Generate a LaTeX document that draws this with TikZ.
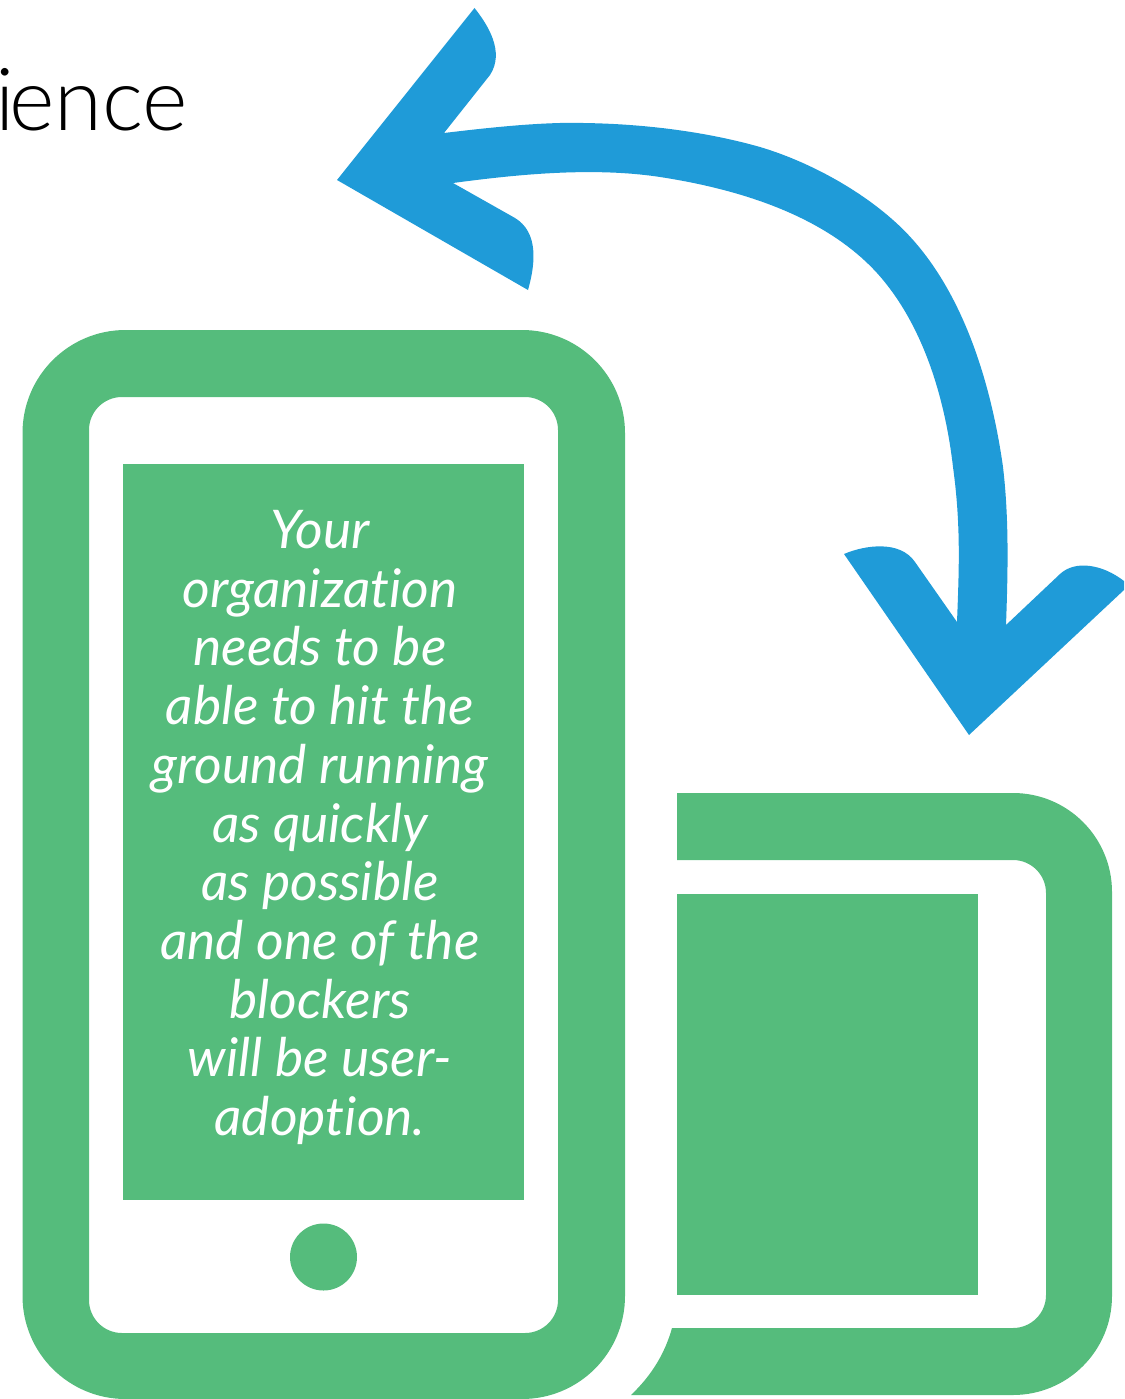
\documentclass[tikz,border=0pt]{standalone}
\usepackage{fontspec}
\setmainfont[Ligatures=NoCommon]{Lato}
\newfontfamily\lightfont{Lato Light}
\definecolor{grn}{HTML}{55BC7C}
\definecolor{blu}{HTML}{1F9BD8}
\tikzset{
  shapefill/.style={fill=grn,draw=none},
  arrowfill/.style={fill=blu,draw=none},
  bodytext/.style={text=white,font=\fontsize{53.3}{58.7}\selectfont\itshape,align=center,inner sep=0pt},
  titletext/.style={text=black,font=\fontsize{87}{100}\lightfont,inner sep=0pt,anchor=base east}
}
\begin{document}
\begin{tikzpicture}[x=1pt,y=-1pt]
\path[use as bounding box] (0,0) rectangle (1124,1399);
\node[titletext] (title) at (188,131) {i\kern-6pt ence};
% phone
\path[shapefill,even odd rule]
  [rounded corners=103pt] (22.5,330) rectangle (625,1399)
  [rounded corners=33pt] (89,397) rectangle (558,1333);
\node[shapefill,minimum width=401.5pt,minimum height=736pt,inner sep=0pt] (screen) at (323.25,832) {};
\node[shapefill,circle,minimum size=67pt,inner sep=0pt] (button) at (323.5,1257) {};
\node[bodytext] (body) at (320,827.5) {Your\\organization\\needs to be\\able to hit the\\ground running\\as quickly\\as possible\\and one of the\\blockers\\will be user-\\adoption.};
% tablet
\path[shapefill]
  (677,793) [rounded corners=99pt] -- (1112,793) -- (1112,1395) [sharp corners] -- (631,1395)
  .. controls (652,1375) and (665,1353) .. (672,1328)
  [rounded corners=33pt] -- (1046,1328) -- (1046,860) [sharp corners] -- (677,860) -- cycle;
\node[shapefill,minimum width=301pt,minimum height=401pt,inner sep=0pt] (tabscreen) at (827.5,1094) {};
% arrow
\path[arrowfill]
  (474.5,8) .. controls (488,25) and (505,52) .. (490,75)
  -- (444,133)
  .. controls (482,128.5) and (522,124) .. (560,123)
  .. controls (630,122) and (700,130) .. (760,147)
  .. controls (807,161) and (857,188) .. (893,220)
  .. controls (958,277) and (990,375) .. (1003,467)
  .. controls (1009,518) and (1008,570) .. (1006,625)
  -- (1060,574)
  .. controls (1075,560) and (1102,564) .. (1124,581)
  -- (1124,590) -- (969,735) -- (844,554)
  .. controls (865,545) and (900,540) .. (915,562)
  -- (957,622)
  .. controls (959,570) and (961,525) .. (953,467)
  .. controls (945,398) and (923,324) .. (877,273)
  .. controls (824,215) and (738,189) .. (660,177)
  .. controls (594,167) and (520,174) .. (453,183)
  -- (515,218)
  .. controls (538,232) and (536,262) .. (528,290)
  -- (337,180) -- cycle;
\end{tikzpicture}
\end{document}
